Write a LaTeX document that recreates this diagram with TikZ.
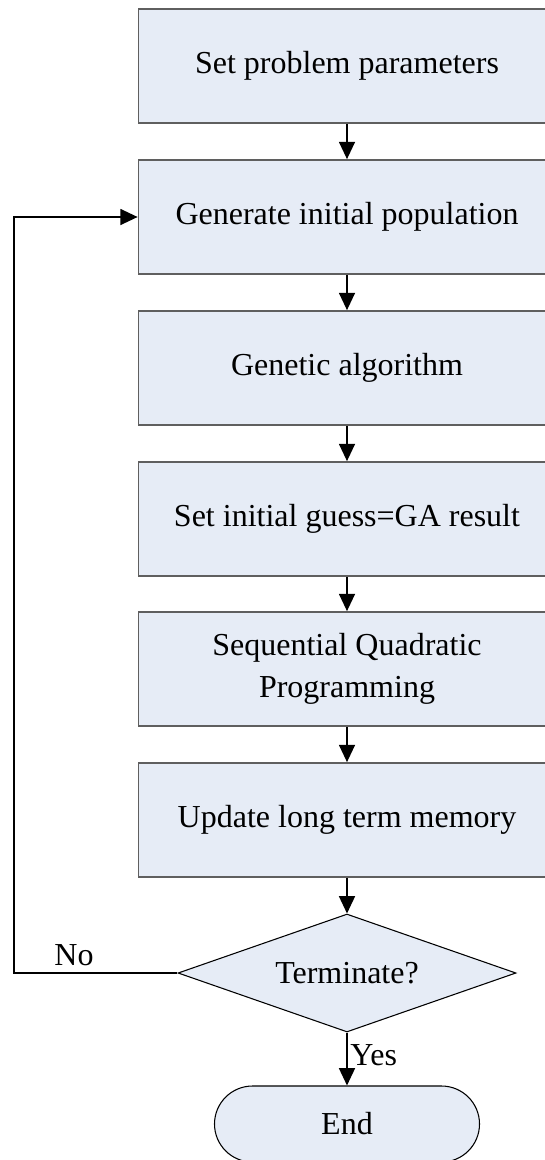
\documentclass[tikz,border=0pt]{standalone}
\usepackage{fontspec}
\setmainfont{Liberation Serif}
\usepackage{tikz}
\usetikzlibrary{arrows.meta}
\usetikzlibrary{shapes.geometric}
\usepackage{xcolor}
\definecolor{boxfill}{RGB}{230,236,246}
\definecolor{boxline}{RGB}{95,95,95}

\begin{document}
\begin{tikzpicture}[x=0.75pt,y=-0.75pt,
    font=\fontsize{24}{31}\selectfont,
    stepbox/.style={shape=rectangle,
      draw=boxline,
      line width=1.3pt,
      fill=boxfill,
      align=center,
      minimum height = 85.5pt,
      minimum width = 312.75pt},
    flow/.style={-{Triangle[length=13pt,width=12pt]},line width=1.2pt,draw=black}]
    \useasboundingbox (0,0) rectangle (545,1160);
    %\draw[help lines,step=50] (0,0) grid (545,1160); % Only for Development

    \node[stepbox] (setpar) at (347,66) {Set problem parameters};
    \node[stepbox] (genpop) at (347,217) {Generate initial population};
    \node[stepbox] (ga) at (347,368) {Genetic algorithm};
    \node[stepbox] (guess) at (347,519) {Set initial guess=GA result};
    \node[stepbox] (sqp) at (347,669) {Sequential Quadratic\\Programming};
    \node[stepbox] (memory) at (347,820) {Update long term memory};

    \node[shape=diamond,
      draw=black,
      line width=0.8pt,
      fill=boxfill,
      aspect=2.86,
      inner sep=0pt,
      minimum height = 88.5pt,
      minimum width = 253.5pt] (term) at (347,973) {Terminate?};

    \node[shape=rectangle,
      rounded corners=28.5pt,
      draw=black,
      line width=0.8pt,
      fill=boxfill,
      minimum height = 57pt,
      minimum width = 198.75pt] (stop) at (347,1124) {End};

    \draw[flow] (setpar) -- (genpop);
    \draw[flow] (genpop) -- (ga);
    \draw[flow] (ga) -- (guess);
    \draw[flow] (guess) -- (sqp);
    \draw[flow] (sqp) -- (memory);
    \draw[flow] (memory) -- (term);
    \draw[flow] (term) -- (stop) node[pos=0.42,anchor=west,inner sep=2pt] (yes) {Yes};

    \coordinate (loopbot) at (14,973);
    \coordinate (looptop) at (14,217);
    \draw[flow] (term.west) -- (loopbot) -- (looptop) -- (genpop.west);
    \node (no) at (74,955) {No};

  \end{tikzpicture}
\end{document}
